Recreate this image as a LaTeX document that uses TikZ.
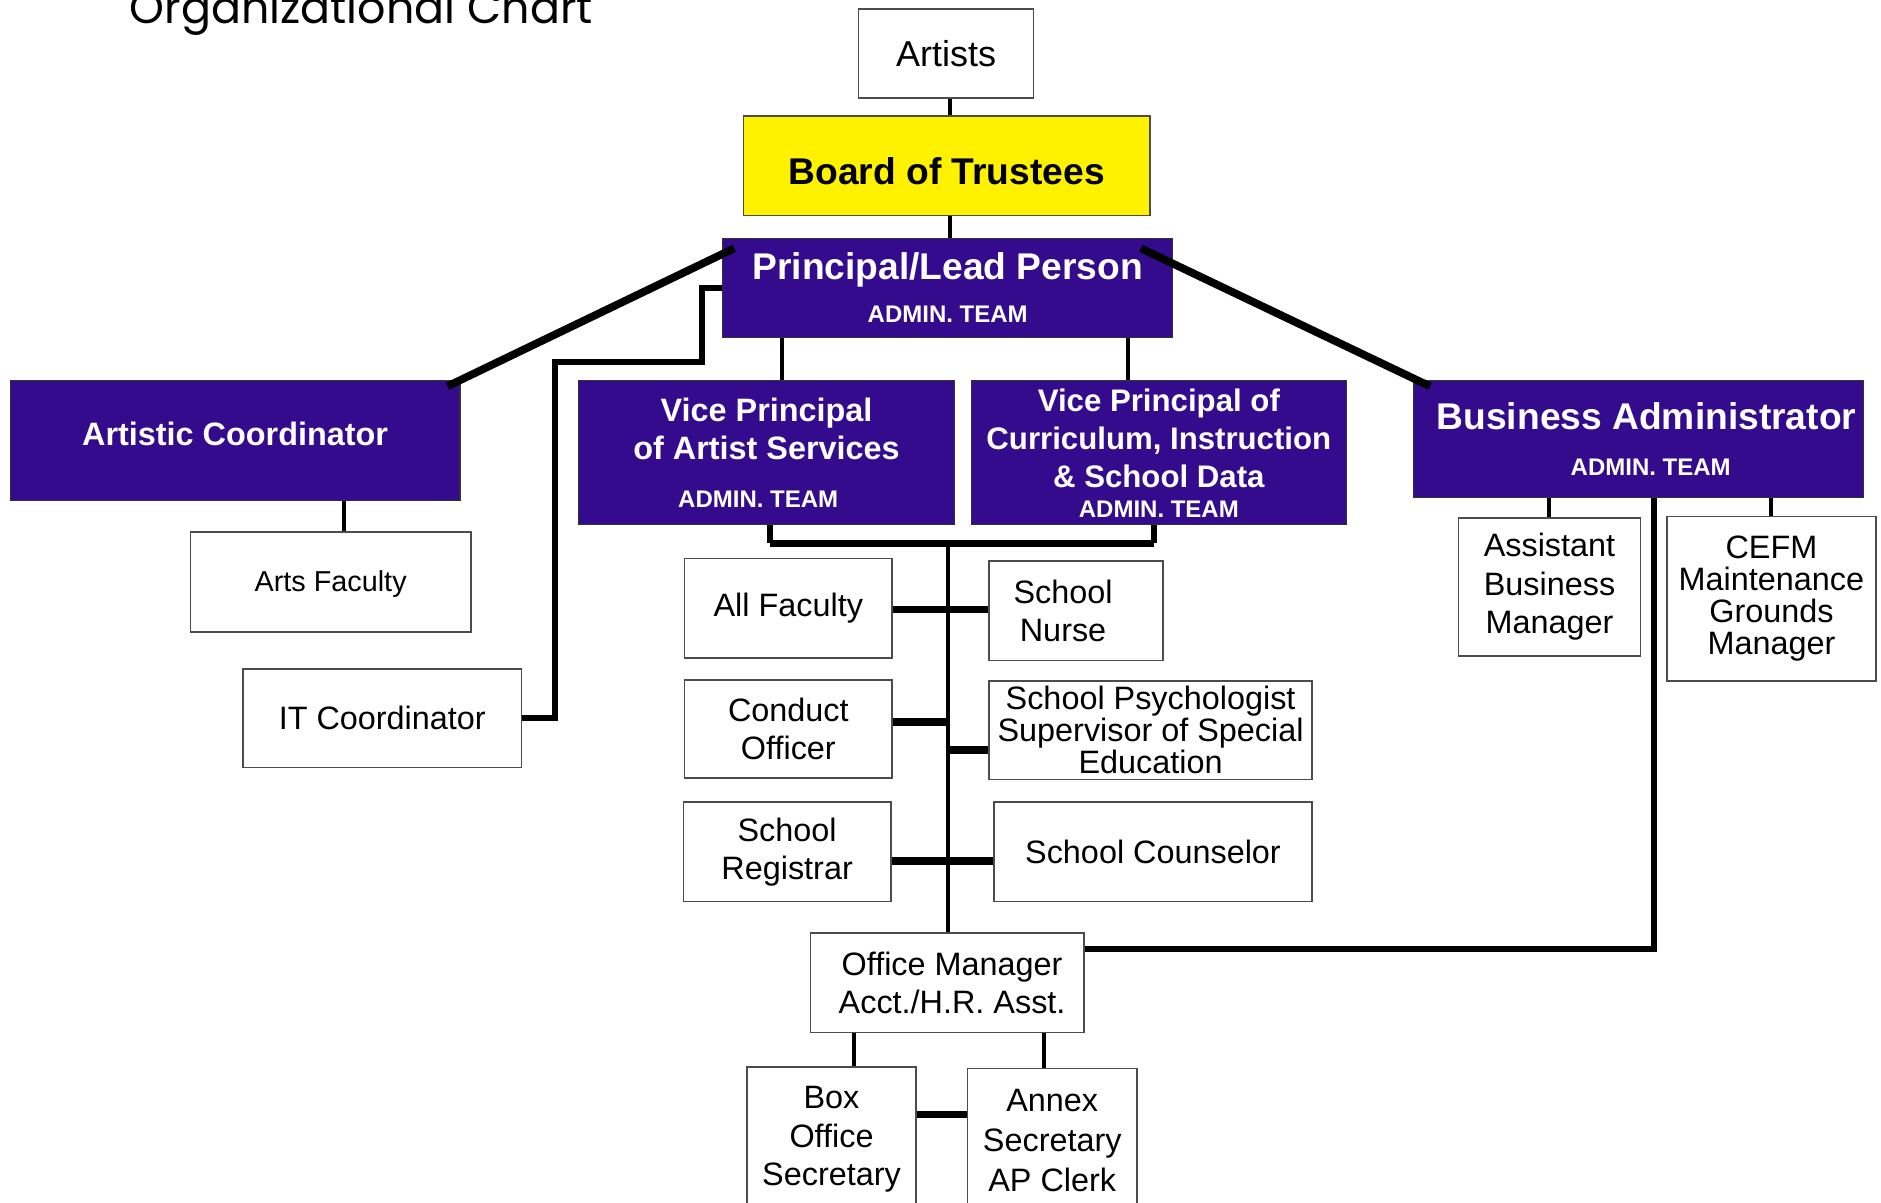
\documentclass[tikz,border=0pt]{standalone}
\usepackage{fontspec}
\setmainfont{Liberation Sans}
\newfontfamily\titlefont{Poppins}
\usetikzlibrary{calc}
\definecolor{purp}{RGB}{52,11,140}
\definecolor{yel}{RGB}{255,242,0}
\begin{document}
\begin{tikzpicture}[x=1pt,y=-1pt,
  wbox/.style={draw=black!70, line width=1.3pt, fill=white, inner sep=0pt, align=center, anchor=north west, font=\fontsize{27}{32}\selectfont},
  pbox/.style={draw=black!80, line width=1pt, fill=purp, text=white, inner sep=0pt, align=center, anchor=north west, font=\bfseries\fontsize{27}{32}\selectfont},
  thinc/.style={line width=3.5pt},
  thickc/.style={line width=6.5pt},
  midc/.style={line width=5pt},
]
\useasboundingbox (0,0) rectangle (1568,1002);

\node[font=\titlefont\fontsize{37}{40}\selectfont, anchor=base west, inner sep=0pt] (title) at (108,20) {Organizational Chart};

% top
\node[wbox, minimum width=146pt, minimum height=74pt, font=\fontsize{30}{36}\selectfont] (artists) at (715,7) {Artists};
\node[wbox, fill=yel, draw=black!70, minimum width=339pt, minimum height=83pt, font=\bfseries\fontsize{31}{36}\selectfont, text height=31.5pt] (board) at (619,96) {Board of Trustees};
\node[pbox, minimum width=375pt, minimum height=83pt, font=\bfseries\fontsize{31}{36}\selectfont] (principal) at (602,198) {Principal/Lead Person\\{\fontsize{20}{24}\selectfont ADMIN. TEAM}};

% second row
\node[pbox, minimum width=375pt, minimum height=100pt, text depth=12pt] (artc) at (8,317) {Artistic Coordinator};
\node[pbox, minimum width=313pt, minimum height=120pt] (vp1) at (482,317) {Vice Principal\\of Artist Services\\[8pt]{\fontsize{20}{24}\selectfont ADMIN. TEAM\hspace*{14pt}}};
\node[pbox, minimum width=313pt, minimum height=120pt, font=\bfseries\fontsize{26}{32}\selectfont] (vp2) at (809,317) {Vice Principal of\\Curriculum, Instruction\\\& School Data\\[-7.5pt]{\fontsize{20}{24}\selectfont ADMIN. TEAM}};
\node[pbox, minimum width=375pt, minimum height=97pt, font=\bfseries\fontsize{31}{38}\selectfont] (busadm) at (1178,317) {\hspace*{13pt}Business Administrator\\{\fontsize{20}{24}\selectfont \hspace*{20pt}ADMIN. TEAM}};

% left column
\node[wbox, minimum width=234pt, minimum height=83pt, font=\fontsize{24}{30}\selectfont, text height=21pt] (artsf) at (158,443) {Arts Faculty};
\node[wbox, minimum width=232pt, minimum height=82pt] (itc) at (202,557) {IT Coordinator};

% middle
\node[wbox, minimum width=173pt, minimum height=83pt] (allf) at (570,465) {All Faculty};
\node[wbox, minimum width=145pt, minimum height=83pt] (nurse) at (824,467) {School\hspace*{22pt}\\Nurse\hspace*{22pt}};
\node[wbox, minimum width=173pt, minimum height=82pt] (conduct) at (570,566) {Conduct\\Officer};
\node[wbox, minimum width=269pt, minimum height=82pt, font=\fontsize{27}{26.5}\selectfont] (psych) at (824,567) {School Psychologist\\Supervisor of Special\\Education};
\node[wbox, minimum width=173pt, minimum height=83pt] (registrar) at (569,668) {School\\Registrar};
\node[wbox, minimum width=265pt, minimum height=83pt] (couns) at (828,668) {School Counselor};
\node[wbox, minimum width=228pt, minimum height=83pt] (offm) at (675,777) {\hspace*{8pt}Office Manager\\\hspace*{8pt}Acct./H.R. Asst.};
\node[wbox, minimum width=141pt, minimum height=120pt] (boxo) at (622,889) {Box\\Office\\Secretary};
\node[wbox, minimum width=141pt, minimum height=120pt, font=\fontsize{27}{33}\selectfont] (annex) at (806,890) {Annex\\Secretary\\AP Clerk};

% right
\node[wbox, minimum width=152pt, minimum height=115pt] (asst) at (1215,431) {Assistant\\Business\\Manager};
\node[wbox, minimum width=174pt, minimum height=137pt, font=\fontsize{27}{26.7}\selectfont] (cefm) at (1389,430) {CEFM\\Maintenance\\Grounds\\Manager};

% helper coordinates
\coordinate (x792) at (792,0);
\coordinate (x652) at (652,0);
\coordinate (x940) at (940,0);
\coordinate (x287) at (287,0);
\coordinate (busL) at (642,453);
\coordinate (busR) at (962,453);
\coordinate (trunk) at (790,453);
\coordinate (itbend) at (463,302);
\coordinate (cc) at (790,602);
\coordinate (psy) at (790,625);
\coordinate (regc) at (0,718);
\coordinate (nc) at (0,508);
\coordinate (om) at (1379,791);
\coordinate (x1291) at (1291,0);
\coordinate (x1476) at (1476,0);
\coordinate (x712) at (712,0);
\coordinate (x870) at (870,0);
\coordinate (boc) at (0,929);

% connectors
\draw[thinc] (artists.south -| x792) -- (board.north -| x792);
\draw[thinc] (board.south -| x792) -- (principal.north -| x792);
\draw[thickc] ($(principal.north west)+(10,9)$) -- ($(artc.north east)+(-11,5)$);
\draw[thickc] ($(principal.north east)+(-27,9)$) -- ($(busadm.north west)+(14,5)$);
\draw[midc] (principal.west) -| ++(-17,62) -| (itbend) |- (itc.east);
\draw[thinc] (principal.south -| x652) -- (vp1.north -| x652);
\draw[thinc] (principal.south -| x940) -- (vp2.north -| x940);
\draw[thinc] (artc.south -| x287) -- (artsf.north -| x287);
\draw[midc] (vp1.south -| busL) -- (busL);
\draw[midc] (vp2.south -| busR) -- (busR);
\draw[thickc] (busL) -- (busR);
\draw[thinc] (trunk) -- (offm.north -| trunk);
\draw[thickc] (allf.east |- nc) -- (nurse.west |- nc);
\draw[thickc] (conduct.east |- cc) -- (cc);
\draw[thickc] (psy) -- (psych.west |- psy);
\draw[thickc] (registrar.east |- regc) -- (couns.west |- regc);
\draw[midc] (offm.east |- om) -- (om) -- (busadm.south -| om);
\draw[thinc] (busadm.south -| x1291) -- (asst.north -| x1291);
\draw[thinc] (busadm.south -| x1476) -- (cefm.north -| x1476);
\draw[thinc] (offm.south -| x712) -- (boxo.north -| x712);
\draw[thinc] (offm.south -| x870) -- (annex.north -| x870);
\draw[thickc] (boxo.east |- boc) -- (annex.west |- boc);
\end{tikzpicture}
\end{document}
